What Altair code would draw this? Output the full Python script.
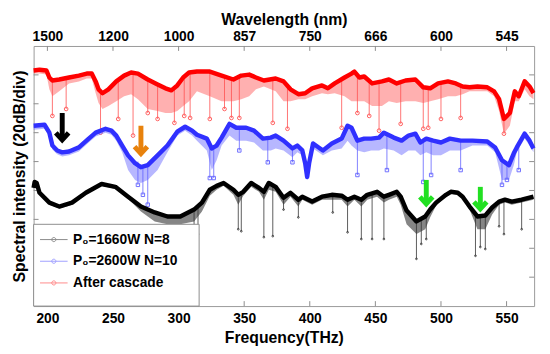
import altair as alt
import pandas as pd

FONT = "Liberation Sans"

# ---------------- data ----------------
x_ticks = [200, 250, 300, 350, 400, 450, 500, 550]
wavelength_labels = ["1500", "1200", "1000", "857", "750", "666", "600", "545"]
y_ticks = [-160, -140, -120, -100, -80, -60, -40, -20]

series_names = ["P\u2080=1660W N=8", "P\u2080=2600W N=10", "After cascade"]

# After cascade (red): envelope and lower edge of the dense band
red_freq = [189.5, 194, 199.3, 201.5, 203.8, 209, 216.5, 224, 230, 233.8, 236.8, 239, 242, 246.5,
            252.5, 258.5, 263.8, 269, 276.5, 284, 290, 294.5, 299, 303.5, 308, 314, 323.8, 332.8,
            341.8, 347.8, 353.8, 359, 365, 374, 380, 385.3, 391.3, 396.5, 401.8, 409.3, 413.8, 419,
            426.5, 431.8, 434, 437.8, 441.5, 447.5, 455, 460.3, 466.3, 473, 480.5, 486.5, 491.8,
            497.8, 505.3, 511.3, 516.5, 521.8, 527.8, 535.3, 540.5, 544.3, 548, 552.5, 556.3, 559.3,
            563.8, 567.5, 570.5]
red_env = [-17.0, -16.4, -17.0, -21.8, -23.9, -23.2, -21.8, -20.5, -19.1, -19.1, -24.5, -30.0, -32.7,
           -30.0, -24.5, -20.5, -18.4, -19.1, -23.2, -26.6, -29.3, -30.7, -27.3, -21.8, -18.4, -17.7,
           -17.7, -20.5, -23.2, -20.5, -19.8, -21.8, -23.9, -22.5, -24.5, -30.0, -33.4, -32.7, -29.3,
           -27.3, -29.3, -25.9, -21.8, -19.1, -17.7, -21.8, -21.1, -25.9, -24.5, -23.2, -25.9, -23.9,
           -23.2, -28.6, -29.3, -25.9, -24.5, -25.9, -28.0, -28.6, -28.0, -28.6, -31.4, -36.8, -50.5,
           -46.4, -31.4, -34.8, -24.5, -28.0, -32.7]
red_low = [-19.1, -19.1, -19.8, -30.0, -34.8, -31.4, -25.9, -24.5, -22.5, -22.5, -32.7, -39.5, -43.6,
           -41.6, -38.2, -34.8, -33.4, -36.8, -43.6, -45.0, -46.4, -46.4, -45.0, -41.6, -38.2, -31.4,
           -34.8, -38.2, -38.2, -36.8, -34.8, -30.0, -28.0, -31.4, -38.2, -38.2, -36.8, -36.8, -34.8,
           -32.7, -33.4, -32.7, -34.8, -38.2, -38.2, -38.2, -38.2, -41.6, -41.6, -38.2, -39.5, -38.2,
           -38.2, -39.5, -38.2, -36.8, -34.8, -34.8, -33.4, -31.4, -31.4, -31.4, -34.8, -45.0, -60.7,
           -55.2, -38.2, -38.2, -30.0, -34.8, -36.8]
red_dip_freq = [203.8, 214.3, 240.5, 254, 265.3, 276.5, 284, 296.8, 304.3, 308.8, 323.8, 335, 340.3,
                346.3, 371.8, 383, 424.3, 436.3, 445.3, 452.8, 469.3, 486.5, 490.3, 500, 515, 548]
red_dip_top = [-23.9, -22, -31, -23, -18.4, -23.2, -26.6, -29, -21, -18.4, -17.7, -21, -22.5, -21,
               -23, -27, -23, -20, -24, -25, -25, -28.6, -29, -25, -27, -50.5]
red_dip_bottom = [-48.4, -43.6, -60.0, -50.5, -62.0, -46.4, -50.5, -53.2, -48.4, -49.8, -50.5, -43.6,
                  -49.8, -49.8, -53.2, -57.3, -56.6, -46.4, -48.4, -58.6, -53.9, -57.3, -56.6, -50.5,
                  -49.8, -60.7]

# P0=2600W N=10 (blue)
blue_freq = [189.5, 197.8, 201.5, 203.8, 207.5, 211.3, 216.5, 224, 231.5, 236.8, 244.3, 248.8, 252.5,
             257, 261.5, 266.8, 271.3, 276.5, 284, 291.5, 299, 305, 310.3, 314, 321.5, 325.3, 329,
             332.8, 338.8, 344, 351.5, 357.5, 364.3, 370.3, 374, 380, 386.8, 390.5, 394.3, 396.5, 398,
             399.5, 402.5, 410, 416.8, 424.3, 428.8, 431.8, 436.3, 441.5, 446.8, 452.8, 456.5, 464,
             470, 475.3, 480.5, 484.3, 488.8, 494, 500, 506.8, 515, 524, 535.3, 541.3, 546.5, 551.8,
             555.5, 557.8, 563.8, 567.5, 570.5]
blue_env = [-55.2, -54.5, -60.0, -68.9, -72.3, -73.6, -73.0, -70.2, -64.1, -60.0, -57.3, -58.6, -62.0,
            -68.9, -75.7, -81.1, -83.9, -82.5, -75.7, -68.9, -59.3, -55.9, -58.6, -61.4, -64.1, -70.9,
            -68.9, -63.4, -53.9, -56.6, -56.6, -58.6, -64.1, -63.4, -62.0, -65.5, -70.9, -68.9, -72.3,
            -81.1, -90.7, -81.1, -67.5, -72.3, -67.5, -64.1, -55.2, -56.6, -65.5, -64.1, -64.1, -63.4,
            -60.0, -63.4, -65.5, -62.0, -60.7, -66.8, -64.1, -65.5, -66.8, -64.1, -65.5, -65.5, -66.1,
            -70.2, -79.1, -82.5, -74.3, -70.2, -60.7, -65.5, -70.9]
blue_low = [-58.0, -57.3, -62.7, -71.6, -75.0, -76.4, -75.7, -73.0, -66.8, -62.7, -60.0, -61.4, -65.5,
            -73.6, -85.9, -92.7, -94.8, -92.7, -85.9, -73.6, -62.0, -58.6, -62.0, -65.5, -72.3, -85.9,
            -79.1, -68.9, -62.0, -65.5, -65.5, -66.8, -72.3, -72.3, -70.9, -72.3, -77.0, -73.6, -75.7,
            -83.9, -92.7, -83.9, -70.9, -75.7, -72.3, -70.9, -65.5, -68.9, -72.3, -73.6, -72.3, -72.3,
            -70.9, -72.3, -75.7, -72.3, -72.3, -75.7, -73.6, -75.7, -75.7, -72.3, -72.3, -68.9, -68.9,
            -73.6, -92.7, -92.7, -82.5, -73.6, -64.1, -68.9, -73.6]
blue_dip_freq = [269, 272.8, 276.5, 323.8, 326.8, 346.3, 368, 386.8, 436.3, 458.8, 486.5, 492.5, 515,
                 546.5, 550.3, 559.3]
blue_dip_top = [-80, -83, -82, -66, -70, -57, -64, -70, -65, -62, -66, -65, -65, -79, -82, -70]
blue_dip_bottom = [-96.1, -103.0, -109.8, -91.4, -91.4, -72.3, -80.5, -80.5, -89.3, -85.9, -94.1,
                   -89.3, -85.9, -96.1, -92.7, -85.9]

# P0=1660W N=8 (black)
black_freq = [189.5, 190.3, 191.8, 194, 201.5, 209, 218.8, 229.3, 241.3, 251.8, 261.5, 271.3, 281.8,
              291.5, 301.3, 311.8, 317.8, 323.8, 329, 334.3, 341.8, 345.5, 349.3, 355.3, 361.3, 365,
              368.8, 374, 380, 385.3, 391.3, 394.3, 401.8, 409.3, 416.8, 424.3, 428.8, 434, 439.3,
              443.8, 451.3, 456.5, 460.3, 466.3, 469.3, 473.8, 481.3, 488, 491.8, 496.3, 503.8, 507.5,
              512.8, 516.5, 521.8, 527.8, 533.8, 539, 544.3, 548.8, 554, 561.5, 570.5]
black_env = [-98.2, -94.1, -94.8, -101.6, -108.4, -111.1, -108.4, -101.6, -95.5, -97.5, -104.3, -111.1,
             -115.2, -118.0, -118.0, -113.2, -108.4, -99.5, -96.8, -94.8, -99.5, -103.0, -100.9, -94.8,
             -98.2, -100.9, -94.8, -97.5, -105.0, -101.6, -106.4, -104.3, -107.7, -104.3, -103.0,
             -103.6, -106.4, -104.3, -106.4, -103.0, -100.9, -104.3, -103.0, -100.9, -104.3, -113.9,
             -121.4, -118.0, -113.2, -108.4, -103.0, -100.9, -101.6, -104.3, -111.1, -118.0, -117.3,
             -111.8, -107.7, -106.4, -107.7, -106.4, -104.3]
black_low = [-99.5, -96.1, -96.8, -103.0, -109.8, -112.5, -109.8, -103.0, -96.8, -98.9, -105.7, -114.5,
             -121.4, -123.4, -123.4, -121.4, -114.5, -103.6, -99.5, -96.8, -103.0, -109.8, -103.6,
             -97.5, -100.9, -106.4, -99.5, -100.9, -109.8, -104.3, -111.1, -106.4, -109.8, -106.4,
             -106.4, -106.4, -111.1, -106.4, -111.1, -106.4, -104.3, -108.4, -106.4, -104.3, -109.8,
             -123.4, -130.2, -126.8, -118.6, -110.4, -104.3, -102.3, -103.0, -105.7, -113.2, -126.8,
             -126.8, -116.6, -109.8, -108.4, -109.8, -108.4, -106.4]
black_dip_freq = [311.8, 314.8, 345.5, 347.8, 365, 371.8, 380, 391.3, 417.5, 428.8, 439.3, 447.5,
                  456.5, 481.3, 485, 488.8, 526.3, 530, 533.8, 544.3, 548, 561.5]
black_dip_top = [-113, -111, -103, -101, -101, -96, -105, -106, -103, -106, -106, -103, -104, -121,
                 -120, -118, -116, -118, -117, -108, -106, -106]
black_dip_bottom = [-133.6, -130.2, -126.8, -128.2, -132.3, -131.6, -113.2, -118.6, -115.2, -128.9,
                    -133.6, -133.6, -133.6, -147.3, -137.0, -133.6, -145.2, -139.1, -140.5, -124.8,
                    -130.2, -126.8]

# arrows
arrow_freq = [211.3, 271.3, 488.8, 530.0]
arrow_tail = [-46.4, -55.2, -92.7, -97.5]
arrow_tip = [-67.5, -77.0, -111.8, -115.2]
arrow_color = ["#000000", "#e8820c", "#22e022", "#22e022"]

# ---------------- chart ----------------
W, H = 508, 264
GRAY = "#8c8c8c"
RED, BLUE, BLACK = "#ff0000", "#3030ff", "#000000"

xs = alt.Scale(domain=[189.5, 571], nice=False, zero=False)
ys = alt.Scale(domain=[-180, 0], nice=False, zero=False)

yaxis = alt.Axis(title="Spectral intensity (20dB/div)", labels=False, ticks=False, domain=False,
                 grid=False, titleFont=FONT, titleFontSize=16, titleFontWeight="bold",
                 titleColor="black", titlePadding=6)

label_expr = " : ".join(f"datum.value == {f} ? '{l}'" for f, l in zip(x_ticks, wavelength_labels)) + " : ''"

bottom_axis = alt.Axis(values=x_ticks, title="Frequency(THz)", orient="bottom", ticks=False,
                       domain=False, grid=False, labelFont=FONT, labelFontSize=14,
                       labelFontWeight="bold", labelColor="black", labelPadding=6,
                       titleFont=FONT, titleFontSize=16, titleFontWeight="bold",
                       titleColor="black", titlePadding=4)
top_axis = alt.Axis(values=x_ticks, title="Wavelength (nm)", orient="top", ticks=False,
                    domain=False, grid=False, labelExpr=label_expr, labelFont=FONT,
                    labelFontSize=14, labelFontWeight="bold", labelColor="black", labelPadding=3,
                    titleFont=FONT, titleFontSize=16, titleFontWeight="bold",
                    titleColor="black", titlePadding=2)

xt = pd.DataFrame({"f": x_ticks})
yt = pd.DataFrame({"db": y_ticks})

bottom_ticks = alt.Chart(xt).mark_rule(color=GRAY).encode(
    x=alt.X("f:Q", scale=xs, axis=bottom_axis), y=alt.value(H), y2=alt.value(H - 5))
top_ticks = alt.Chart(xt).mark_rule(color=GRAY).encode(
    x=alt.X("f:Q", scale=xs, axis=top_axis), y=alt.value(0), y2=alt.value(5))
left_ticks = alt.Chart(yt).mark_rule(color=GRAY).encode(
    y=alt.Y("db:Q", scale=ys, axis=yaxis), x=alt.value(0), x2=alt.value(5))
right_ticks = alt.Chart(yt).mark_rule(color=GRAY).encode(
    y=alt.Y("db:Q", scale=ys, axis=yaxis), x=alt.value(W), x2=alt.value(W - 5))


def series_layers(freq, env, low, dfreq, dtop, dbot, band_color, band_op, shape, psize):
    env_df = pd.DataFrame({"f": freq, "env": env, "low": low})
    dip_df = pd.DataFrame({"f": dfreq, "top": dtop, "bottom": dbot})
    area = alt.Chart(env_df).mark_area(color=band_color, opacity=band_op).encode(
        x=alt.X("f:Q", scale=xs, axis=None),
        y=alt.Y("env:Q", scale=ys, axis=yaxis), y2="low:Q")
    rules = alt.Chart(dip_df).mark_rule(color=band_color, strokeWidth=1, opacity=0.8).encode(
        x=alt.X("f:Q", scale=xs, axis=None),
        y=alt.Y("top:Q", scale=ys, axis=yaxis), y2="bottom:Q")
    pts = alt.Chart(dip_df).mark_point(color=band_color, shape=shape, size=psize, filled=False,
                                       strokeWidth=1, opacity=0.9).encode(
        x=alt.X("f:Q", scale=xs, axis=None),
        y=alt.Y("bottom:Q", scale=ys, axis=yaxis))
    return [area, rules, pts]


red_layers = series_layers(red_freq, red_env, red_low, red_dip_freq, red_dip_top, red_dip_bottom,
                           "#ff5050", 0.45, "circle", 14)
blue_layers = series_layers(blue_freq, blue_env, blue_low, blue_dip_freq, blue_dip_top,
                            blue_dip_bottom, "#6060ff", 0.45, "square", 12)
black_layers = series_layers(black_freq, black_env, black_low, black_dip_freq, black_dip_top,
                             black_dip_bottom, "#333333", 0.6, "circle", 3)

env_all = pd.concat([
    pd.DataFrame({"series": series_names[2], "f": red_freq, "env": red_env}),
    pd.DataFrame({"series": series_names[1], "f": blue_freq, "env": blue_env}),
    pd.DataFrame({"series": series_names[0], "f": black_freq, "env": black_env}),
])

SYMBOL = "M-1,0H1M-0.15,0A0.15,0.15,0,1,0,0.15,0A0.15,0.15,0,1,0,-0.15,0"
lines = alt.Chart(env_all).mark_line(strokeJoin="round", strokeWidth=4.5).encode(
    x=alt.X("f:Q", scale=xs, axis=None),
    y=alt.Y("env:Q", scale=ys, axis=yaxis),
    color=alt.Color("series:N",
                    scale=alt.Scale(domain=series_names, range=[BLACK, BLUE, RED]),
                    legend=alt.Legend(title=None, orient="none", legendX=6, legendY=182,
                                      direction="vertical", symbolType=SYMBOL, symbolSize=784,
                                      symbolStrokeWidth=1, symbolFillColor="white",
                                      symbolOpacity=0.45,
                                      labelFont=FONT, labelFontSize=14, labelFontWeight="bold",
                                      labelColor="black", labelOffset=5, rowPadding=0,
                                      padding=0, labelLimit=300)),
)

box = alt.Chart(pd.DataFrame({"k": [0]})).mark_rect(fill="white", stroke=GRAY, strokeWidth=1).encode(
    x=alt.value(0), x2=alt.value(168), y=alt.value(181), y2=alt.value(H))

arrows_df = pd.DataFrame({"f": arrow_freq, "tail": arrow_tail, "tip": arrow_tip, "c": arrow_color})
shafts = alt.Chart(arrows_df).transform_calculate(end="datum.tip + 4").mark_rule(strokeWidth=5).encode(
    x=alt.X("f:Q", scale=xs, axis=None),
    y=alt.Y("tail:Q", scale=ys, axis=yaxis), y2="end:Q",
    stroke=alt.Stroke("c:N", scale=None))
heads = alt.Chart(arrows_df).transform_calculate(hy="datum.tip + 2.5").mark_point(
    shape="M-1,-1.1L0,0L1,-1.1", filled=False, strokeWidth=5, size=169, opacity=1,
    strokeJoin="miter").encode(
    x=alt.X("f:Q", scale=xs, axis=None),
    y=alt.Y("hy:Q", scale=ys, axis=yaxis),
    stroke=alt.Stroke("c:N", scale=None))

chart = alt.layer(
    bottom_ticks, top_ticks, left_ticks, right_ticks,
    *red_layers, *blue_layers, *black_layers,
    lines, box, shafts, heads,
).resolve_axis(x="independent").properties(
    width=W, height=H,
    autosize=alt.AutoSizeParams(type="none"),
    padding={"left": 26, "top": 36, "right": 8, "bottom": 40},
).configure_view(stroke="#999999", strokeWidth=1)

chart.save("out.html", embed_options={"renderer": "svg", "actions": False})
